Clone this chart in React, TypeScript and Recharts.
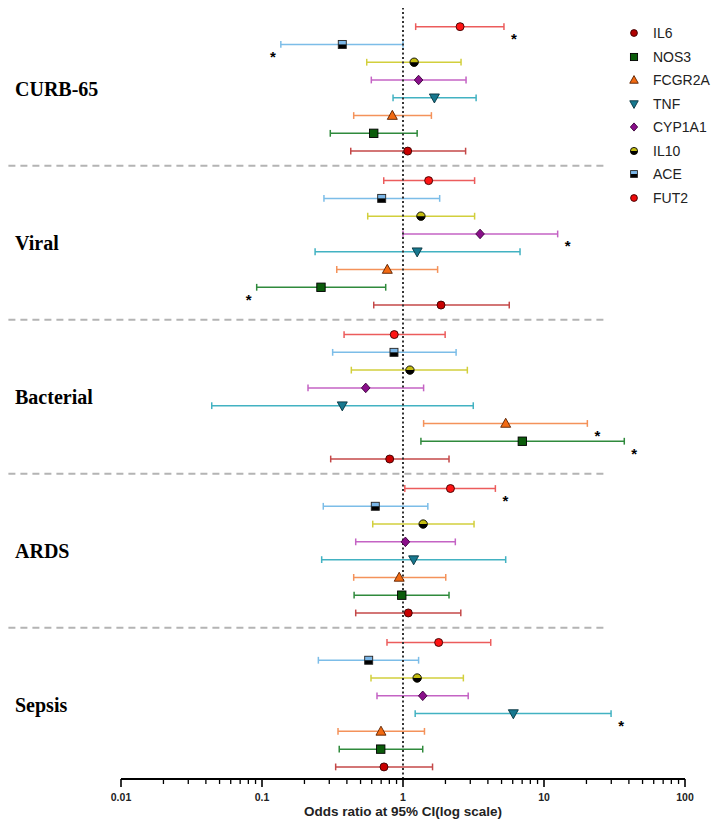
import React from 'react';
import { ScatterChart, Scatter, XAxis, YAxis, ErrorBar, ReferenceLine, Legend } from 'recharts';

// ---------- data ----------
const groups = ['CURB-65', 'Viral', 'Bacterial', 'ARDS', 'Sepsis'];
const rowGenes = ['IL6', 'ACE', 'IL10', 'CYP1A1', 'TNF', 'FCGR2A', 'NOS3', 'FUT2'];
const legendGenes = ['IL6', 'NOS3', 'FCGR2A', 'TNF', 'CYP1A1', 'IL10', 'ACE', 'FUT2'];

// odds ratio / lower CI / upper CI, one value per group (CURB-65, Viral, Bacterial, ARDS, Sepsis)
const IL6_or = [2.54, 1.52, 0.867, 2.17, 1.79];
const IL6_lo = [1.23, 0.73, 0.382, 1.03, 0.77];
const IL6_hi = [5.2, 3.22, 1.99, 4.52, 4.19];

const ACE_or = [0.371, 0.706, 0.863, 0.636, 0.571];
const ACE_lo = [0.136, 0.275, 0.317, 0.272, 0.251];
const ACE_hi = [1.0, 1.82, 2.38, 1.5, 1.29];

const IL10_or = [1.2, 1.34, 1.12, 1.39, 1.26];
const IL10_lo = [0.553, 0.562, 0.43, 0.61, 0.593];
const IL10_hi = [2.58, 3.22, 2.86, 3.19, 2.68];

const CYP1A1_or = [1.29, 3.52, 0.544, 1.04, 1.38];
const CYP1A1_lo = [0.596, 1.0, 0.212, 0.462, 0.654];
const CYP1A1_hi = [2.8, 12.5, 1.4, 2.35, 2.9];

const TNF_or = [1.67, 1.26, 0.371, 1.19, 6.06];
const TNF_lo = [0.85, 0.238, 0.044, 0.265, 1.22];
const TNF_hi = [3.3, 6.76, 3.15, 5.35, 29.9];

const FCGR2A_or = [0.84, 0.774, 5.35, 0.94, 0.698];
const FCGR2A_lo = [0.447, 0.339, 1.4, 0.447, 0.346];
const FCGR2A_hi = [1.59, 1.76, 20.3, 2.01, 1.42];

const NOS3_or = [0.62, 0.262, 7.02, 0.98, 0.695];
const NOS3_lo = [0.305, 0.0917, 1.34, 0.45, 0.353];
const NOS3_hi = [1.26, 0.754, 37.1, 2.12, 1.38];

const FUT2_or = [1.08, 1.86, 0.805, 1.09, 0.733];
const FUT2_lo = [0.426, 0.62, 0.307, 0.462, 0.333];
const FUT2_hi = [2.78, 5.67, 2.12, 2.57, 1.62];

// significant results: gene, group index, which CI end carries the star
const sigGenes = ['IL6', 'ACE', 'CYP1A1', 'NOS3', 'FCGR2A', 'NOS3', 'IL6', 'TNF'];
const sigGroups = [0, 0, 1, 1, 2, 2, 3, 4];
const sigSides = ['hi', 'lo', 'hi', 'lo', 'hi', 'hi', 'hi', 'hi'];

const majorTicks = [0.01, 0.1, 1, 10, 100];
const majorTickLabels = ['0.01', '0.1', '1', '10', '100'];
const minorMultipliers = [2, 3, 4, 5, 6, 7, 8, 9];
const xTitle = 'Odds ratio at 95% CI(log scale)';

const geneValues: Record<string, number[][]> = {
  IL6: [IL6_or, IL6_lo, IL6_hi],
  ACE: [ACE_or, ACE_lo, ACE_hi],
  IL10: [IL10_or, IL10_lo, IL10_hi],
  CYP1A1: [CYP1A1_or, CYP1A1_lo, CYP1A1_hi],
  TNF: [TNF_or, TNF_lo, TNF_hi],
  FCGR2A: [FCGR2A_or, FCGR2A_lo, FCGR2A_hi],
  NOS3: [NOS3_or, NOS3_lo, NOS3_hi],
  FUT2: [FUT2_or, FUT2_lo, FUT2_hi],
};

// ---------- layout / style ----------
const GROUP_STEP = 8.66;
const rowY = (gi: number, ri: number) => gi * GROUP_STEP + ri;

const barColor: Record<string, string> = {
  IL6: '#ec5c5c',
  ACE: '#7cbde8',
  IL10: '#d2cf3c',
  CYP1A1: '#c463c4',
  TNF: '#42b2c2',
  FCGR2A: '#f4925a',
  NOS3: '#2f8a3c',
  FUT2: '#c44848',
};

const tickValues: number[] = [];
majorTicks.forEach((m, i) => {
  tickValues.push(m);
  if (i < majorTicks.length - 1) minorMultipliers.forEach((k) => tickValues.push(+(m * k).toPrecision(3)));
});

const buildGene = (gene: string) => {
  const ri = rowGenes.indexOf(gene);
  const [or, lo, hi] = geneValues[gene];
  return groups.map((g, gi) => ({
    group: g,
    or: or[gi],
    err: [or[gi] - lo[gi], hi[gi] - or[gi]],
    y: rowY(gi, ri),
  }));
};

const starData = sigGenes.map((gene, i) => {
  const gi = sigGroups[i];
  const [, lo, hi] = geneValues[gene];
  return {
    or: sigSides[i] === 'hi' ? hi[gi] : lo[gi],
    y: rowY(gi, rowGenes.indexOf(gene)),
    side: sigSides[i],
  };
});

const Marker = ({ gene, cx, cy, legend }: { gene: string; cx: number; cy: number; legend?: boolean }) => {
  const s = legend ? 0.85 : 1;
  switch (gene) {
    case 'IL6':
    case 'FUT2': {
      const isIL6 = gene === 'IL6';
      const fill = legend ? (isIL6 ? '#b00000' : '#ee0a0a') : isIL6 ? '#ff1414' : '#c80000';
      return <circle cx={cx} cy={cy} r={4 * s} fill={fill} stroke="#3a0000" strokeWidth={0.9} />;
    }
    case 'IL10': {
      const r = 4.2 * s;
      return (
        <g>
          <circle cx={cx} cy={cy} r={r} fill="#c4bd10" />
          <path d={`M${cx - r},${cy} A${r},${r} 0 0 0 ${cx + r},${cy} Z`} fill="#000" />
          <circle cx={cx} cy={cy} r={r} fill="none" stroke="#000" strokeWidth={0.9} />
        </g>
      );
    }
    case 'ACE': {
      const h = 4 * s;
      return (
        <g>
          <rect x={cx - h} y={cy - h} width={2 * h} height={h} fill="#7ab6e8" />
          <rect x={cx - h} y={cy} width={2 * h} height={h} fill="#000" />
          <rect x={cx - h} y={cy - h} width={2 * h} height={2 * h} fill="none" stroke="#222" strokeWidth={0.9} />
        </g>
      );
    }
    case 'NOS3': {
      const h = 4.2 * s;
      return <rect x={cx - h} y={cy - h} width={2 * h} height={2 * h} fill="#0b5c0b" stroke="#000" strokeWidth={0.9} />;
    }
    case 'FCGR2A':
      return (
        <polygon
          points={`${cx},${cy - 5.2 * s} ${cx + 5 * s},${cy + 3.8 * s} ${cx - 5 * s},${cy + 3.8 * s}`}
          fill="#f26a12"
          stroke="#5a2000"
          strokeWidth={0.9}
        />
      );
    case 'TNF':
      return (
        <polygon
          points={`${cx - 5 * s},${cy - 3.8 * s} ${cx + 5 * s},${cy - 3.8 * s} ${cx},${cy + 5.2 * s}`}
          fill="#17788f"
          stroke="#08343e"
          strokeWidth={0.9}
        />
      );
    case 'CYP1A1':
      return (
        <polygon
          points={`${cx},${cy - 4.8 * s} ${cx + 4.3 * s},${cy} ${cx},${cy + 4.8 * s} ${cx - 4.3 * s},${cy}`}
          fill="#8a0f8a"
          stroke="#3a003a"
          strokeWidth={0.9}
        />
      );
    default:
      return null;
  }
};

const XTick = (props: any) => {
  const { x, y, payload } = props;
  const v = payload.value;
  const mi = majorTicks.indexOf(v);
  const major = mi >= 0;
  return (
    <g>
      <line x1={x} x2={x} y1={y} y2={y + (major ? 8 : 5)} stroke="#000" strokeWidth={major ? 1.6 : 1.3} />
      {major && (
        <text
          x={x}
          y={y + 22}
          textAnchor="middle"
          fontFamily="'Liberation Sans', Arial, sans-serif"
          fontWeight="bold"
          fontSize={10.5}
          fill="#222"
        >
          {majorTickLabels[mi]}
        </text>
      )}
    </g>
  );
};

const YTick = (props: any) => {
  const { y, payload } = props;
  const gi = Math.round((payload.value - 3.5) / GROUP_STEP);
  return (
    <text
      x={15}
      y={y + 7}
      textAnchor="start"
      fontFamily="'Liberation Serif', 'Times New Roman', serif"
      fontWeight="bold"
      fontSize={20}
      fill="#000"
    >
      {groups[gi]}
    </text>
  );
};

const StarShape = (props: any) => {
  const { cx, cy, payload } = props;
  const dx = payload.side === 'hi' ? 10 : -8;
  return (
    <text
      x={cx + dx}
      y={cy + 17.5}
      textAnchor="middle"
      fontFamily="'Liberation Sans', Arial, sans-serif"
      fontWeight="bold"
      fontSize={15}
      fill="#000"
    >
      *
    </text>
  );
};

const renderLegend = () => (
  <div style={{ fontFamily: "'Liberation Sans', Arial, sans-serif", fontSize: 14, color: '#222' }}>
    {legendGenes.map((g) => (
      <div key={g} style={{ display: 'flex', alignItems: 'center', height: 23.5 }}>
        <svg width={16} height={16} style={{ display: 'block' }}>
          <Marker gene={g} cx={8} cy={8} legend />
        </svg>
        <span style={{ marginLeft: 11, lineHeight: '16px' }}>{g}</span>
      </div>
    ))}
  </div>
);

const separatorYs = groups.slice(0, -1).map((_, gi) => rowY(gi, 7) + (GROUP_STEP - 7) / 2);

export default function App() {
  return (
    <div style={{ position: 'absolute', left: 0, top: 0, width: 715, height: 823, background: '#fff' }}>
      <ScatterChart width={715} height={823} margin={{ top: 8, right: 30, bottom: 0, left: 0 }}>
        <XAxis
          type="number"
          dataKey="or"
          scale="log"
          domain={[0.01, 100]}
          allowDataOverflow
          ticks={tickValues}
          interval={0}
          tick={<XTick />}
          tickLine={false}
          tickSize={0}
          tickMargin={0}
          axisLine={{ stroke: '#000', strokeWidth: 2 }}
          height={44}
          label={{
            value: xTitle,
            position: 'insideBottom',
            offset: 7,
            style: { fontFamily: "'Liberation Sans', Arial, sans-serif", fontWeight: 'bold', fontSize: 13.5, fill: '#222' },
          }}
        />
        <YAxis
          type="number"
          dataKey="y"
          domain={[-1.05, 42.32]}
          reversed
          allowDataOverflow
          width={121}
          ticks={groups.map((_, gi) => rowY(gi, 3.5))}
          interval={0}
          tick={<YTick />}
          axisLine={false}
          tickLine={false}
        />
        {separatorYs.map((sy, i) => (
          <ReferenceLine
            key={`sep${i}`}
            segment={[
              { x: 0.00159, y: sy },
              { x: 28.4, y: sy },
            ]}
            ifOverflow="visible"
            stroke="#b4b4b4"
            strokeWidth={2}
            strokeDasharray="7 5"
          />
        ))}
        {rowGenes.map((gene) => (
          <Scatter
            key={gene}
            name={gene}
            data={buildGene(gene)}
            isAnimationActive={false}
            shape={(p: any) => <Marker gene={gene} cx={p.cx} cy={p.cy} />}
          >
            <ErrorBar dataKey="err" direction="x" width={3.4} stroke={barColor[gene]} strokeWidth={1.5} />
          </Scatter>
        ))}
        <ReferenceLine x={1} stroke="#333" strokeWidth={2} strokeDasharray="2 2.5" ifOverflow="visible" />
        <Scatter name="sig" data={starData} isAnimationActive={false} shape={<StarShape />} legendType="none" />
        <Legend
          layout="vertical"
          align="center"
          verticalAlign="middle"
          content={renderLegend}
          wrapperStyle={{ left: 626, top: 21.5, width: 90, bottom: 'auto', right: 'auto' }}
        />
      </ScatterChart>
    </div>
  );
}
